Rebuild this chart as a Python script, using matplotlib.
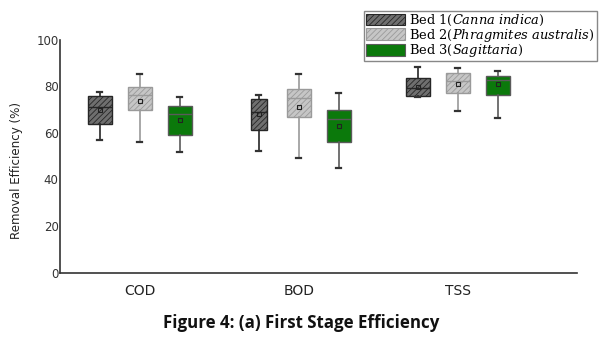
import numpy as np
import matplotlib
matplotlib.use("Agg")
import matplotlib.pyplot as plt
from matplotlib.patches import Patch

# data (removal efficiency, %)
params = ["COD", "BOD", "TSS"]
beds = [r"Bed 1($\it{Canna\ indica}$)",
        r"Bed 2($\it{Phragmites\ australis}$)",
        r"Bed 3($\it{Sagittaria}$)"]
# one row per bed, one column per parameter
whis_lo = [[56.9, 52.2, 75.3], [56.0, 49.3, 69.5], [51.7, 45.1, 66.4]]
q1 = [[64.0, 61.1, 76.0], [69.8, 66.8, 77.0], [58.9, 55.9, 76.4]]
med = [[71.2, 69.0, 79.2], [76.3, 75.1, 82.3], [68.1, 66.1, 82.8]]
mean = [[70.0, 68.0, 79.6], [73.9, 71.3, 80.9], [65.7, 63.1, 80.9]]
q3 = [[76.0, 74.6, 83.7], [79.6, 78.9, 85.9], [71.6, 70.0, 84.6]]
whis_hi = [[77.6, 76.3, 88.4], [85.2, 85.3, 87.9], [75.3, 77.0, 86.8]]

fills = ["#6f6f6f", "#c6c6c6", "#0b790b"]
edges = ["#262626", "#9a9a9a", "#5a5a5a"]
hatches = ["//////", "//////", None]
box_w = [[0.151, 0.10, 0.151], [0.151, 0.151, 0.151], [0.151, 0.151, 0.151]]

plt.rcParams["hatch.linewidth"] = 0.6
plt.rcParams["mathtext.fontset"] = "dejavuserif"

fig = plt.figure(figsize=(6.03, 3.53), dpi=100)
ax = fig.add_axes([0.0995, 0.228, 0.8575, 0.659])

offsets = [-0.2516, 0.0, 0.2516]
for b in range(3):
    stats = []
    for p in range(3):
        stats.append(dict(med=med[b][p], q1=q1[b][p], q3=q3[b][p],
                          whislo=whis_lo[b][p], whishi=whis_hi[b][p],
                          mean=mean[b][p], fliers=[]))
    pos = [p + 1 + offsets[b] for p in range(3)]
    ec = edges[b]
    res = ax.bxp(stats, positions=pos, widths=box_w[b], patch_artist=True,
                 showmeans=True, capwidths=0.03,
                 boxprops=dict(facecolor=fills[b], edgecolor=ec, linewidth=1.0),
                 medianprops=dict(color=ec, linewidth=1.0),
                 whiskerprops=dict(color=ec, linewidth=1.2),
                 capprops=dict(color="#333333", linewidth=1.6),
                 meanprops=dict(marker="s", markersize=3.5, markerfacecolor="none",
                                markeredgecolor="#222222", markeredgewidth=0.8))
    for box in res["boxes"]:
        if hatches[b]:
            box.set_hatch(hatches[b])

ax.set_xlim(0.5, 3.75)
ax.set_ylim(0, 100)
ax.set_xticks([1, 2, 3])
ax.set_xticklabels(params, fontsize=10, color="#222222")
ax.set_yticks([0, 20, 40, 60, 80, 100])
ax.tick_params(axis="x", length=0, pad=8)
ax.tick_params(axis="y", length=0, pad=1, labelsize=8.5, labelcolor="#333333")
for s in ["top", "right"]:
    ax.spines[s].set_visible(False)
for s in ["left", "bottom"]:
    ax.spines[s].set_color("#333333")
    ax.spines[s].set_linewidth(1.2)
ax.set_ylabel("Removal Efficiency (%)", fontsize=8.6, color="#222222")
ax.yaxis.set_label_coords(-0.072, 0.44)

handles = [Patch(facecolor=fills[i], edgecolor=edges[i], hatch=hatches[i], linewidth=0.8)
           for i in range(3)]
leg = fig.legend(handles, beds, loc="upper right", bbox_to_anchor=(0.99, 0.969),
                 prop=dict(family="DejaVu Serif", size=9.4), fancybox=False,
                 frameon=True, edgecolor="#888888", framealpha=1,
                 handlelength=3.0, handleheight=1.0, labelspacing=-0.1,
                 handletextpad=0.3, borderpad=0.15, borderaxespad=0)
leg.get_frame().set_linewidth(1.0)

fig.text(0.5, 0.085, "Figure 4: (a) First Stage Efficiency", ha="center", va="center",
         fontsize=12.2, fontweight="bold", family="Open Sans", color="#111111")

fig.savefig("out.png", dpi=100)
